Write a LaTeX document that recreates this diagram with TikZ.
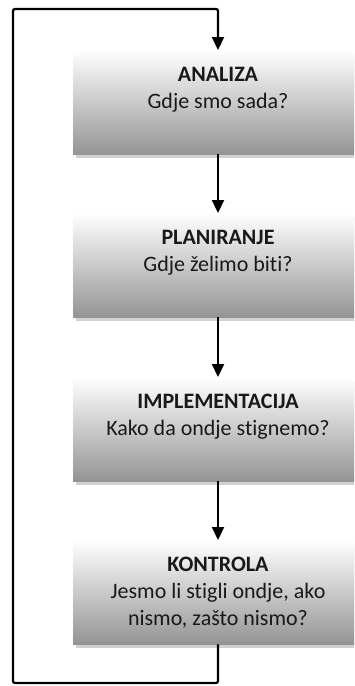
\documentclass[tikz,border=0pt]{standalone}
\usepackage{fontspec}
\setmainfont[Ligatures={NoCommon}]{Carlito}
\usetikzlibrary{arrows.meta,shadows}
\definecolor{boxbot}{RGB}{148,148,148}
\definecolor{txtc}{RGB}{25,25,25}
\begin{document}
\begin{tikzpicture}[x=1pt,y=-1pt,
  box/.style={rectangle, minimum width=290pt, minimum height=104pt, inner sep=0pt,
    top color=white, bottom color=boxbot, draw=none,
    drop shadow={shadow xshift=3pt, shadow yshift=-4pt, fill=black!18, opacity=1},
    anchor=north},
  txt/.style={anchor=north, align=center, text=txtc,
    font=\fontsize{22}{27}\selectfont, inner sep=0pt},
  conn/.style={line width=2.2pt, -{Triangle[width=12pt,length=13pt]}}]
\useasboundingbox (0,0) rectangle (354,686);
\clip (0,0) rectangle (354,686);
\node[box] (b1) at (218,50) {};
\node[box] (b2) at (218,213) {};
\node[box] (b3) at (218,377) {};
\node[box] (b4) at (218,540) {};
\node[txt] (t1) at ([yshift=-17pt]b1.north) {\textbf{ANALIZA}\\Gdje smo sada?};
\node[txt] (t2) at ([yshift=-17pt]b2.north) {\textbf{PLANIRANJE}\\Gdje želimo biti?};
\node[txt] (t3) at ([yshift=-17pt]b3.north) {\textbf{IMPLEMENTACIJA}\\Kako da ondje stignemo?};
\node[txt] (t4) at ([yshift=-17pt]b4.north) {\textbf{KONTROLA}\\Jesmo li stigli ondje, ako\\nismo, zašto nismo?};
\coordinate (lb) at (13,683);
\coordinate (lt) at (13,9);
\draw[conn] (b1.south) -- (b2.north);
\draw[conn] (b2.south) -- (b3.north);
\draw[conn] (b3.south) -- (b4.north);
\draw[conn, rounded corners=2pt] (b4.south) |- (lb) -- (lt) -| (b1.north);
\end{tikzpicture}
\end{document}
